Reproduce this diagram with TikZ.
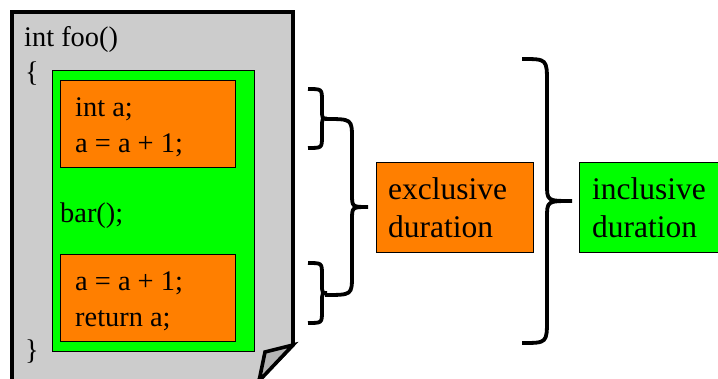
\documentclass[tikz,border=0pt]{standalone}
\usepackage{fontspec}
\setmainfont{Liberation Serif}
\newfontfamily\timesfont{Liberation Serif}
\definecolor{pagegray}{HTML}{CCCCCC}
\definecolor{foldgray}{HTML}{B4B4B4}
\definecolor{codegreen}{HTML}{00FF00}
\definecolor{codeorange}{HTML}{FF7F00}
\tikzset{
  codebox/.style={draw=black, line width=0.8pt, anchor=north west, inner sep=0pt},
  codetext/.style={anchor=base west, inner sep=0pt, font=\timesfont\fontsize{28.4}{34}\selectfont},
  durtext/.style={anchor=base west, inner sep=0pt, font=\timesfont\fontsize{31.5}{38}\selectfont},
  bracestyle/.style={line width=3.8pt},
  pagestyle/.style={line width=3.6pt, line join=miter}
}
% x0, y0, y1, xbody, xtip, rend, rtip
\newcommand\mybrace[7]{%
  \draw[bracestyle] (#1,#2) .. controls (#4,#2) .. (#4,{#2+#6})
    -- (#4,{(#2+#3)/2-#7}) .. controls (#4,{(#2+#3)/2}) .. (#5,{(#2+#3)/2})
    .. controls (#4,{(#2+#3)/2}) .. (#4,{(#2+#3)/2+#7})
    -- (#4,{#3-#6}) .. controls (#4,#3) .. (#1,#3);
}
\begin{document}
\begin{tikzpicture}[x=1pt, y=-1pt]
\useasboundingbox (0,0) rectangle (718,379);
\clip (0,0) rectangle (718,379);
% page
\draw[pagestyle, fill=pagegray] (12,12) -- (293,12) -- (293,345) -- (254,385) -- (12,385) -- cycle;
\draw[pagestyle, fill=foldgray] (265,352) -- (293,345) -- (259,381) -- cycle;
% code boxes
\node[codebox, fill=codegreen, minimum width=202pt, minimum height=281pt] (body) at (52,70) {};
\node[codebox, fill=codeorange, minimum width=175pt, minimum height=87pt] (top) at (60,80) {};
\node[codebox, fill=codeorange, minimum width=175pt, minimum height=87pt] (bottom) at (60,254) {};
% code text
\node[codetext] (sig) at (24,47) {int foo()};
\node[codetext] (open) at (25,82) {\{};
\node[codetext] (close) at (25,360) {\}};
\node[codetext] (l1) at (75,117) {int a;};
\node[codetext] (l2) at (75,153) {a = a + 1;};
\node[codetext] (l3) at (60,223) {bar();};
\node[codetext] (l4) at (75,291) {a = a + 1;};
\node[codetext] (l5) at (75,327) {return a;};
% result boxes
\node[codebox, fill=codeorange, minimum width=157pt, minimum height=90pt] (excl) at (376,162) {};
\node[codebox, fill=codegreen, minimum width=140pt, minimum height=90pt] (incl) at (579,162) {};
\node[durtext] (e1) at (388,200) {exclusive};
\node[durtext] (e2) at (388,238) {duration};
\node[durtext] (i1) at (592,200) {inclusive};
\node[durtext] (i2) at (592,238) {duration};
% braces
\mybrace{308}{89}{148}{322}{327}{12}{9}
\mybrace{308}{263}{323}{322}{327}{12}{9}
\mybrace{325}{119}{295}{352}{368}{20}{13}
\mybrace{522}{59}{343}{547}{572}{24}{17}
\end{tikzpicture}
\end{document}
